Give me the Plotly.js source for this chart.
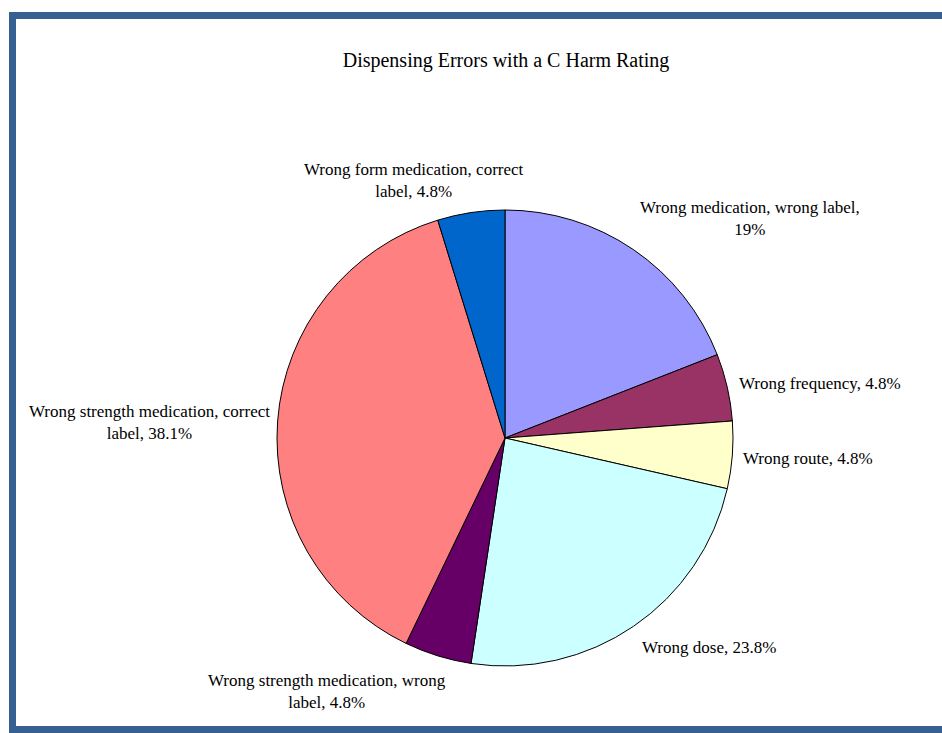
<!DOCTYPE html>
<html>
<head>
<meta charset="utf-8">
<script src="https://cdn.plot.ly/plotly-3.0.1.min.js"></script>
<style>
html,body{margin:0;padding:0;background:#fff;}
#chart{width:942px;height:733px;}
</style>
</head>
<body>
<div id="chart"></div>
<script>
var categories = [
  "Wrong medication, wrong label",
  "Wrong frequency",
  "Wrong route",
  "Wrong dose",
  "Wrong strength medication, wrong label",
  "Wrong strength medication, correct label",
  "Wrong form medication, correct label"
];
var counts = [4, 1, 1, 5, 1, 8, 1];
var colors = ["#9999FF", "#993366", "#FFFFCC", "#CCFFFF", "#660066", "#FF8080", "#0066CC"];
var chartTitle = "Dispensing Errors with a C Harm Rating";

// label layout: [x px, y px, xanchor, first line text (null = single line)]
var labelPos = [
  [750, 218, "center", "Wrong medication, wrong label,"],
  [737, 383, "left", null],
  [741, 458, "left", null],
  [640, 647, "left", null],
  [327, 691, "center", "Wrong strength medication, wrong"],
  [149, 422, "center", "Wrong strength medication, correct"],
  [414, 181, "center", "Wrong form medication, correct"]
];

var W = 942, H = 733;
var total = counts.reduce(function(a,b){return a+b;},0);
function fmtPct(v){
  var p = (v/total*100).toFixed(1);
  if (p.slice(-2) === ".0") p = p.slice(0,-2);
  return p + "%";
}
var annotations = categories.map(function(c,i){
  var full = c + ", " + fmtPct(counts[i]);
  var lp = labelPos[i];
  var txt = full;
  if (lp[3]) {
    txt = lp[3] + "<br>" + full.slice(lp[3].length).trim();
  }
  return {
    text: txt, xref: "paper", yref: "paper",
    x: lp[0]/W, y: 1 - lp[1]/H, xanchor: lp[2], yanchor: "middle",
    showarrow: false, align: "center",
    font: {family: "Liberation Serif, Times New Roman, serif", size: 17, color: "#000"}
  };
});

var cx = 505, cy = 438, r = 228;
var trace = {
  type: "pie",
  labels: categories,
  values: counts,
  sort: false,
  direction: "clockwise",
  rotation: 0,
  textinfo: "none",
  hoverinfo: "label+percent",
  marker: {colors: colors, line: {color: "#000", width: 1}},
  domain: {x: [(cx-r)/W, (cx+r)/W], y: [1-(cy+r)/H, 1-(cy-r)/H]},
  showlegend: false
};

var bc = "#366092";
var shapes = [
  {type:"rect", xref:"paper", yref:"paper", x0:9/W, x1:1, y0:1-19/H, y1:1-12/H, fillcolor:bc, line:{width:0}},
  {type:"rect", xref:"paper", yref:"paper", x0:9/W, x1:16/W, y0:0, y1:1-12/H, fillcolor:bc, line:{width:0}},
  {type:"rect", xref:"paper", yref:"paper", x0:9/W, x1:1, y0:0, y1:1-726/H, fillcolor:bc, line:{width:0}}
];

var layout = {
  width: W, height: H,
  margin: {l:0, r:0, t:0, b:0},
  paper_bgcolor: "#fff",
  title: {text: chartTitle, x: 506/W, xanchor: "center", y: 1-60/H, yanchor: "middle",
          font: {family: "Liberation Serif, Times New Roman, serif", size: 20, color: "#000"}},
  annotations: annotations,
  shapes: shapes
};

Plotly.newPlot("chart", [trace], layout, {displayModeBar: false, staticPlot: true});
</script>
</body>
</html>
